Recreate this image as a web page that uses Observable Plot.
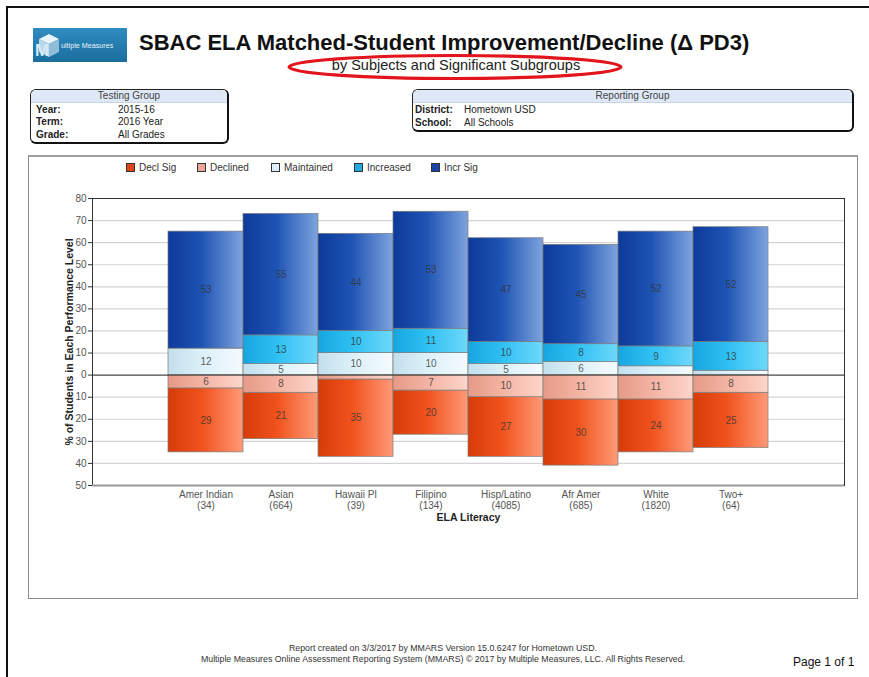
<!DOCTYPE html>
<html><head><meta charset="utf-8">
<script src="https://cdn.jsdelivr.net/npm/d3@7"></script>
<script src="https://cdn.jsdelivr.net/npm/@observablehq/plot@0.6"></script>
<style>
body{margin:0;width:869px;height:677px;overflow:hidden;background:#fff;font-family:Arial,"Liberation Sans",sans-serif;position:relative;color:#222}
.abs{position:absolute}
.pageframe{left:6px;top:6px;width:900px;height:720px;border-left:2px solid #111;border-top:2px solid #111}
.logo{left:33px;top:28px;width:94px;height:34px;background:linear-gradient(180deg,#2f8cc0,#1b6d9e);overflow:hidden}
.title{left:139px;top:30px;font-size:22px;font-weight:bold;color:#111;white-space:nowrap}
.subtitle{left:306px;width:300px;text-align:center;top:57px;font-size:14.5px;color:#222;white-space:nowrap}
.box{border:1px solid #222;border-bottom:2px solid #111;border-right:2px solid #111;border-radius:6px;overflow:hidden;font-size:10px}
.boxhead{background:#dfe8f6;text-align:center;height:12px;line-height:12px;color:#444;border-bottom:1px solid #c8d2e2}
.row{position:absolute;white-space:nowrap;color:#222}
.lbl{font-weight:bold}
.chartbox{left:28px;top:155px;width:828px;height:441px;border:1px solid #8a8a8a;border-top:2px solid #a0a0a0}
.leg{position:absolute;font-size:10px;color:#333;white-space:nowrap}
.leg i{display:inline-block;width:7px;height:7px;border:1px solid #333;margin-right:4px;vertical-align:-1px}
.foot{left:0;width:886px;text-align:center;font-size:8.8px;color:#333;white-space:nowrap}
.page{left:793px;top:655px;font-size:12px;color:#111}
#chart{left:28px;top:155px}
</style></head>
<body>
<div class="abs pageframe"></div>
<div class="abs logo">
  <svg width="94" height="34" style="position:absolute;left:0;top:0">
    <polygon points="6,11 16,6 26,11 16,16" fill="#e8f3fa"/>
    <polygon points="6,11 16,16 16,29 6,24" fill="#b9d7ea"/>
    <polygon points="16,16 26,11 26,24 16,29" fill="#8fbcd9"/>
    <text x="2" y="28" font-size="17" font-weight="bold" fill="#d7ebf7" font-family="Arial">M</text>
    <text x="28" y="20" font-size="7.2" fill="#e8f4fb" font-family="Arial">ultiple Measures</text>
  </svg>
</div>
<div class="abs title">SBAC ELA Matched-Student Improvement/Decline (Δ PD3)</div>
<div class="abs subtitle">by Subjects and Significant Subgroups</div>
<svg class="abs" style="left:284px;top:52px" width="342" height="30"><ellipse cx="171" cy="15" rx="166" ry="11.5" fill="none" stroke="#e3141b" stroke-width="3.2"/></svg>

<div class="abs box" style="left:30px;top:89px;width:196px;height:52px">
  <div class="boxhead">Testing Group</div>
  <div class="row lbl" style="left:5px;top:14px">Year:</div><div class="row" style="left:87px;top:14px">2015-16</div>
  <div class="row lbl" style="left:5px;top:26px">Term:</div><div class="row" style="left:87px;top:26px">2016 Year</div>
  <div class="row lbl" style="left:5px;top:39px">Grade:</div><div class="row" style="left:87px;top:39px">All Grades</div>
</div>
<div class="abs box" style="left:412px;top:89px;width:439px;height:40px">
  <div class="boxhead">Reporting Group</div>
  <div class="row lbl" style="left:2px;top:14px">District:</div><div class="row" style="left:51px;top:14px">Hometown USD</div>
  <div class="row lbl" style="left:2px;top:27px">School:</div><div class="row" style="left:51px;top:27px">All Schools</div>
</div>

<div class="abs chartbox"></div>
<div id="legend"></div>
<div id="chart" class="abs"></div>

<div class="abs foot" style="top:643px">Report created on 3/3/2017 by MMARS Version 15.0.6247 for Hometown USD.</div>
<div class="abs foot" style="top:654px">Multiple Measures Online Assessment Reporting System (MMARS) © 2017 by Multiple Measures, LLC. All Rights Reserved.</div>
<div class="abs page">Page 1 of 1</div>

<script>
const categories = ["Amer Indian","Asian","Hawaii PI","Filipino","Hisp/Latino","Afr Amer","White","Two+"];
const counts     = [34, 664, 39, 134, 4085, 685, 1820, 64];
const declSig    = [29, 21, 35, 20, 27, 30, 24, 25];
const declined   = [6, 8, 2, 7, 10, 11, 11, 8];
const maintained = [12, 5, 10, 10, 5, 6, 4, 2];
const increased  = [0, 13, 10, 11, 10, 8, 9, 13];
const incrSig    = [53, 55, 44, 53, 47, 45, 52, 52];
const seriesNames = ["Decl Sig","Declined","Maintained","Increased","Incr Sig"];
const stackOrder  = ["Declined","Decl Sig","Maintained","Increased","Incr Sig"];
const yTicks = [-50,-40,-30,-20,-10,0,10,20,30,40,50,60,70,80];
const yTitle = ["% of Students in Each Performance Level"];
const xTitle = "ELA Literacy";

const legendColors = ["#e04516","#eaa797","#dff0f8","#22a9e0","#1a45a8"];
const gradStops = [
  ["#d63c08","#f0521c","#ff9a78"],
  ["#e59a86","#f3b3a2","#fdd6ca"],
  ["#c2dfec","#dcf0f8","#f4fbfe"],
  ["#16a6e0","#2ec0f2","#6fd8fb"],
  ["#0b3a9a","#1f54b4","#7ea4de"]
];

const signs = [-1,-1,1,1,1];
const arrays = [declSig, declined, maintained, increased, incrSig];
const rows = [];
categories.forEach((c, i) => {
  seriesNames.forEach((s, k) => {
    rows.push({cat: c, series: s, v: signs[k] * arrays[k][i], n: arrays[k][i]});
  });
});
const countOf = new Map(categories.map((c, i) => [c, counts[i]]));

// legend
const legX = [126, 197, 271, 354, 431];
const legend = document.getElementById("legend");
seriesNames.forEach((s, k) => {
  const d = document.createElement("div");
  d.className = "leg";
  d.style.left = legX[k] + "px";
  d.style.top = "162px";
  d.innerHTML = `<i style="background:${legendColors[k]}"></i>${s}`;
  legend.appendChild(d);
});

const chart = Plot.plot({
  width: 829,
  height: 443,
  marginLeft: 64,
  marginRight: 13,
  marginTop: 43,
  marginBottom: 113,
  style: {fontFamily: "Arial, 'Liberation Sans', sans-serif", fontSize: "10px", background: "transparent", overflow: "visible"},
  x: {domain: categories, paddingInner: 0, paddingOuter: 1},
  y: {domain: [-50, 80]},
  color: {domain: seriesNames, range: seriesNames.map((s, k) => `url(#grad${k})`)},
  marks: [
    Plot.gridY(yTicks, {stroke: "#d4d4d4", strokeOpacity: 1, strokeWidth: 1.2}),
    Plot.barY(rows, Plot.stackY({x: "cat", y: "v", z: "series", fill: "series", order: stackOrder, stroke: "#7c7c7c", strokeWidth: 0.7})),
    Plot.text(rows, Plot.stackY({x: "cat", y: "v", z: "series", order: stackOrder, text: d => d.n >= 5 ? String(d.n) : null, fill: "#333", fillOpacity: 0.8, fontSize: 10})),
    Plot.frame({stroke: "#333"}),
    Plot.ruleY([0], {stroke: "#333", strokeWidth: 1}),
    Plot.ruleY([-50], {stroke: "#999", strokeWidth: 2}),
    Plot.axisY(yTicks, {tickFormat: d => String(Math.abs(d)), tickSize: 4, tickPadding: 2, label: null, fontSize: 10}),
    Plot.axisX({tickSize: 0, tickPadding: 4, tickFormat: d => d + "\n(" + countOf.get(d) + ")", lineHeight: 1.15, fontSize: 10,
                label: xTitle, labelAnchor: "center", labelOffset: 35}),
    Plot.text(yTitle, {frameAnchor: "left", textAnchor: "middle", rotate: -90, dx: -23, dy: 0, text: d => d, fontWeight: "bold", fontSize: 10.5, fill: "#222"})
  ]
});

const ns = "http://www.w3.org/2000/svg";
const defs = document.createElementNS(ns, "defs");
gradStops.forEach((stops, k) => {
  const g = document.createElementNS(ns, "linearGradient");
  g.setAttribute("id", "grad" + k);
  g.setAttribute("x1", "0"); g.setAttribute("x2", "1"); g.setAttribute("y1", "0"); g.setAttribute("y2", "0");
  [[0, stops[0]], [0.45, stops[1]], [1, stops[2]]].forEach(([o, c]) => {
    const st = document.createElementNS(ns, "stop");
    st.setAttribute("offset", o);
    st.setAttribute("stop-color", c);
    g.appendChild(st);
  });
  defs.appendChild(g);
});
chart.prepend(defs);
document.getElementById("chart").appendChild(chart);
</script>
<style>
#chart g[aria-label="y-axis tick label"] text{fill:#555}
#chart g[aria-label="x-axis tick label"] text{fill:#555}
#chart g[aria-label="x-axis label"] text{font-weight:bold;fill:#222;font-size:10.5px}
#chart g[aria-label="y-axis tick"]{stroke:#333}
</style>
</body></html>
